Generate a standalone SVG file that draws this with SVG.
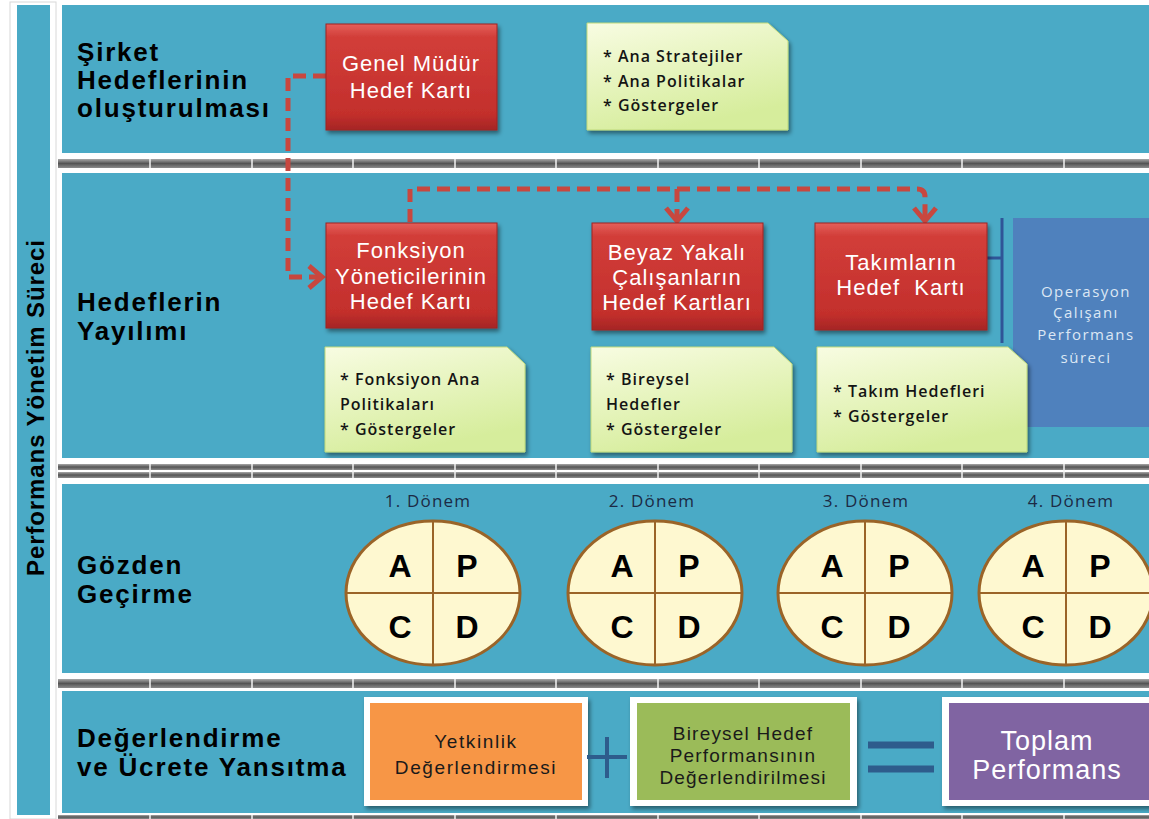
<svg xmlns="http://www.w3.org/2000/svg" width="1149" height="819" viewBox="0 0 1149 819">
<defs>
  <linearGradient id="gRed" x1="0" y1="0" x2="0" y2="1">
    <stop offset="0" stop-color="#E4605B"/>
    <stop offset="0.12" stop-color="#D23E39"/>
    <stop offset="0.85" stop-color="#C32F2C"/>
    <stop offset="1" stop-color="#A52624"/>
  </linearGradient>
  <linearGradient id="gNote" x1="0" y1="0" x2="0.4" y2="1">
    <stop offset="0" stop-color="#F8FCE2"/>
    <stop offset="1" stop-color="#D6ED9C"/>
  </linearGradient>
  <linearGradient id="gSep" x1="0" y1="0" x2="0" y2="1">
    <stop offset="0" stop-color="#A8A8A8"/>
    <stop offset="0.5" stop-color="#555555"/>
    <stop offset="1" stop-color="#8C8C8C"/>
  </linearGradient>
  <filter id="sh" x="-10%" y="-10%" width="125%" height="130%">
    <feDropShadow dx="2" dy="3" stdDeviation="2" flood-color="#000" flood-opacity="0.45"/>
  </filter>
  <marker id="chev" viewBox="-2 -2 20 28" refX="14" refY="12" markerWidth="20" markerHeight="28" markerUnits="userSpaceOnUse" orient="auto">
    <path d="M1,1 L14,12 L1,23" fill="none" stroke="#C8473F" stroke-width="5" stroke-linejoin="miter"/>
  </marker>
  <style>
    .row{fill:#4AAAC6;}
    .sep{fill:url(#gSep);}
    .tick{stroke:#F2F2F2;stroke-width:1.5;}
    .lbl{font-family:"Liberation Sans",Arial,sans-serif;font-weight:bold;font-size:26px;letter-spacing:1.8px;fill:#000;}
    .red rect{fill:url(#gRed);stroke:#9E2522;stroke-width:1;filter:url(#sh);}
    .red text{font-family:"Liberation Sans",Arial,sans-serif;font-size:22px;letter-spacing:1px;fill:#FFFFFF;text-anchor:middle;}
    .note path{fill:url(#gNote);stroke:#BFD97A;stroke-width:1;filter:url(#sh);}
    .note text{font-family:"Open Sans",sans-serif;font-size:16px;font-weight:600;letter-spacing:1px;fill:#141414;}
    .pdca ellipse{fill:#FEF8D0;stroke:#9A6428;stroke-width:3;}
    .pdca line{stroke:#9A6428;stroke-width:2;}
    .pdca .L{font-family:"Liberation Sans",Arial,sans-serif;font-weight:bold;font-size:32px;fill:#000;text-anchor:middle;}
    .pdca .T{font-family:"Open Sans",sans-serif;font-size:17px;letter-spacing:1.2px;fill:#1C2A45;text-anchor:middle;}
    .conn{fill:none;stroke:#C8473F;stroke-width:5;stroke-dasharray:13 7;}
    .frame{fill:#FFFFFF;filter:url(#sh);}
    .btxt{font-family:"Liberation Sans",Arial,sans-serif;font-size:19px;letter-spacing:1.2px;fill:#1A1A1A;text-anchor:middle;}
    .sign{stroke:#2E5C8C;}
  </style>
</defs>

<rect x="0" y="0" width="1149" height="819" fill="#FFFFFF"/>

<!-- left vertical bar -->
<g id="side">
  <rect x="10" y="2" width="46" height="817" fill="#FFFFFF" stroke="#D8D8D8" stroke-width="1"/>
  <rect x="17" y="5" width="33" height="810" class="row"/>
  <text transform="translate(44,408) rotate(-90)" text-anchor="middle" font-family="Liberation Sans, Arial, sans-serif" font-size="24" font-weight="bold" textLength="336" lengthAdjust="spacing" fill="#000">Performans Yönetim Süreci</text>
</g>

<!-- rows -->
<g id="rows">
  <rect x="62" y="5" width="1090" height="148" class="row"/>
  <rect x="62" y="173" width="1090" height="285" class="row"/>
  <rect x="62" y="484" width="1090" height="189" class="row"/>
  <rect x="62" y="691" width="1090" height="122" class="row"/>
</g>

<!-- separators -->
<g id="separators">
  <rect x="58" y="159" width="1091" height="9" class="sep"/>
  <rect x="58" y="464" width="1091" height="6" class="sep"/>
  <rect x="58" y="472" width="1091" height="6" class="sep"/>
  <rect x="58" y="679" width="1091" height="9" class="sep"/>
  <rect x="58" y="815" width="1091" height="4" class="sep"/>
  <g class="tick">
    <path d="M150 159V168M252 159V168M353 159V168M455 159V168M556 159V168M658 159V168M759 159V168M861 159V168M962 159V168M1064 159V168"/>
    <path d="M150 464V478M252 464V478M353 464V478M455 464V478M556 464V478M658 464V478M759 464V478M861 464V478M962 464V478M1064 464V478"/>
    <path d="M150 679V688M252 679V688M353 679V688M455 679V688M556 679V688M658 679V688M759 679V688M861 679V688M962 679V688M1064 679V688"/>
    <path d="M150 815V819M252 815V819M353 815V819M455 815V819M556 815V819M658 815V819M759 815V819M861 815V819M962 815V819M1064 815V819"/>
  </g>
</g>

<!-- row labels -->
<g id="labels" class="lbl">
  <text x="77" y="61">Şirket</text>
  <text x="77" y="89">Hedeflerinin</text>
  <text x="77" y="117">oluşturulması</text>
  <text x="77" y="311">Hedeflerin</text>
  <text x="77" y="340">Yayılımı</text>
  <text x="77" y="574">Gözden</text>
  <text x="77" y="603">Geçirme</text>
  <text x="77" y="747">Değerlendirme</text>
  <text x="77" y="776">ve Ücrete Yansıtma</text>
</g>

<!-- connectors -->
<g id="connectors">
  <path class="conn" d="M326 76 H288 V277 H322" marker-end="url(#chev)"/>
  <path class="conn" d="M410 222 V189 H917 Q925 189 925 197 V221" marker-end="url(#chev)"/>
  <path class="conn" d="M677 189 V221" marker-end="url(#chev)"/>
  <path d="M987 258 H1002 M1002 218 V343" fill="none" stroke="#2F5597" stroke-width="3"/>
</g>

<!-- red cards -->
<g id="genel-mudur" class="red">
  <rect x="326" y="24" width="171" height="106"/>
  <text x="411" y="71">Genel Müdür</text>
  <text x="411" y="98">Hedef Kartı</text>
</g>
<g id="fonksiyon" class="red">
  <rect x="326" y="223" width="171" height="105"/>
  <text x="411" y="258">Fonksiyon</text>
  <text x="411" y="284">Yöneticilerinin</text>
  <text x="411" y="309">Hedef Kartı</text>
</g>
<g id="beyaz-yakali" class="red">
  <rect x="592" y="223" width="171" height="107"/>
  <text x="677" y="260">Beyaz Yakalı</text>
  <text x="677" y="285">Çalışanların</text>
  <text x="677" y="310">Hedef Kartları</text>
</g>
<g id="takimlar" class="red">
  <rect x="815" y="223" width="172" height="107"/>
  <text x="901" y="270">Takımların</text>
  <text x="901" y="295" xml:space="preserve">Hedef  Kartı</text>
</g>

<!-- operasyon -->
<g id="operasyon">
  <rect x="1013" y="218" width="140" height="209" fill="#4F81BD"/>
  <g font-family="Open Sans, sans-serif" font-size="15" letter-spacing="1.5" fill="#DCE7F4" text-anchor="middle">
    <text x="1086" y="297">Operasyon</text>
    <text x="1086" y="318">Çalışanı</text>
    <text x="1086" y="340">Performans</text>
    <text x="1086" y="363">süreci</text>
  </g>
</g>

<!-- notes -->
<g id="note-strateji" class="note">
  <path d="M587 23 H768 L788 41 V130 H587 Z"/>
  <text x="603" y="62">* Ana Stratejiler</text>
  <text x="603" y="87">* Ana Politikalar</text>
  <text x="603" y="111">* Göstergeler</text>
</g>
<g id="note-fonksiyon" class="note">
  <path d="M325 347 H507 L525 364 V452 H325 Z"/>
  <text x="340" y="385">* Fonksiyon Ana</text>
  <text x="340" y="410">Politikaları</text>
  <text x="340" y="435">* Göstergeler</text>
</g>
<g id="note-bireysel" class="note">
  <path d="M591 347 H774 L792 364 V452 H591 Z"/>
  <text x="606" y="385">* Bireysel</text>
  <text x="606" y="410">Hedefler</text>
  <text x="606" y="435">* Göstergeler</text>
</g>
<g id="note-takim" class="note">
  <path d="M817 347 H1008 L1027 364 V452 H817 Z"/>
  <text x="833" y="397">* Takım Hedefleri</text>
  <text x="833" y="422">* Göstergeler</text>
</g>

<!-- PDCA circles -->
<g id="donem1" class="pdca">
  <text class="T" x="428" y="507">1. Dönem</text>
  <ellipse cx="433" cy="593" rx="87" ry="72"/>
  <line x1="433" y1="521" x2="433" y2="665"/>
  <line x1="346" y1="593" x2="520" y2="593"/>
  <text class="L" x="400" y="577">A</text><text class="L" x="467" y="577">P</text>
  <text class="L" x="400" y="638">C</text><text class="L" x="467" y="638">D</text>
</g>
<g id="donem2" class="pdca">
  <text class="T" x="652" y="507">2. Dönem</text>
  <ellipse cx="655" cy="593" rx="87" ry="72"/>
  <line x1="655" y1="521" x2="655" y2="665"/>
  <line x1="568" y1="593" x2="742" y2="593"/>
  <text class="L" x="622" y="577">A</text><text class="L" x="689" y="577">P</text>
  <text class="L" x="622" y="638">C</text><text class="L" x="689" y="638">D</text>
</g>
<g id="donem3" class="pdca">
  <text class="T" x="866" y="507">3. Dönem</text>
  <ellipse cx="865" cy="593" rx="87" ry="72"/>
  <line x1="865" y1="521" x2="865" y2="665"/>
  <line x1="778" y1="593" x2="952" y2="593"/>
  <text class="L" x="832" y="577">A</text><text class="L" x="899" y="577">P</text>
  <text class="L" x="832" y="638">C</text><text class="L" x="899" y="638">D</text>
</g>
<g id="donem4" class="pdca">
  <text class="T" x="1071" y="507">4. Dönem</text>
  <ellipse cx="1066" cy="593" rx="87" ry="72"/>
  <line x1="1066" y1="521" x2="1066" y2="665"/>
  <line x1="979" y1="593" x2="1153" y2="593"/>
  <text class="L" x="1033" y="577">A</text><text class="L" x="1100" y="577">P</text>
  <text class="L" x="1033" y="638">C</text><text class="L" x="1100" y="638">D</text>
</g>

<!-- bottom row -->
<g id="yetkinlik">
  <rect x="364" y="697" width="224" height="109" class="frame"/>
  <rect x="370" y="703" width="212" height="97" fill="#F79646"/>
  <text class="btxt" x="476" y="748" style="letter-spacing:1.6px">Yetkinlik</text>
  <text class="btxt" x="476" y="774" style="letter-spacing:1.6px">Değerlendirmesi</text>
</g>
<g id="plus" class="sign">
  <path d="M587 757 H627 M607 737 V778" stroke-width="4" fill="none"/>
</g>
<g id="bireysel-hedef">
  <rect x="630" y="697" width="227" height="109" class="frame"/>
  <rect x="637" y="703" width="213" height="97" fill="#9BBB59"/>
  <text class="btxt" x="743" y="740">Bireysel Hedef</text>
  <text class="btxt" x="743" y="762">Performansının</text>
  <text class="btxt" x="743" y="784">Değerlendirilmesi</text>
</g>
<g id="equals" class="sign">
  <path d="M868 745 H934 M868 769 H934" stroke-width="7" fill="none"/>
</g>
<g id="toplam">
  <rect x="942" y="697" width="212" height="109" class="frame"/>
  <rect x="949" y="703" width="200" height="97" fill="#8064A2"/>
  <g font-family="Liberation Sans, Arial, sans-serif" font-size="27" letter-spacing="1" fill="#FFFFFF" text-anchor="middle">
    <text x="1047" y="750">Toplam</text>
    <text x="1047" y="779">Performans</text>
  </g>
</g>
</svg>
